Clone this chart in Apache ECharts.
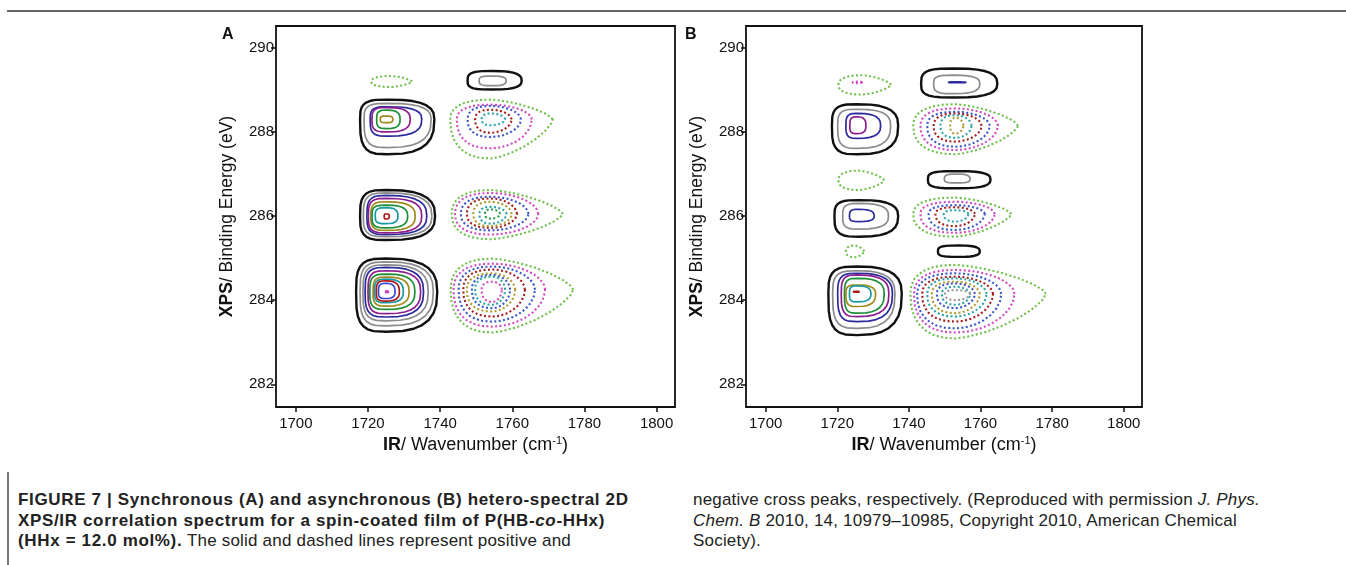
<!DOCTYPE html>
<html>
<head>
<meta charset="utf-8">
<script src="https://cdn.jsdelivr.net/npm/echarts@6/dist/echarts.min.js"></script>
<style>
  html, body { margin:0; padding:0; background:#fff; width:1346px; height:565px; overflow:hidden; }
  #chart { position:absolute; left:0; top:0; width:1346px; height:470px; }
  .cap { position:absolute; top:490px; font-family:'Liberation Sans', Arial, sans-serif; font-size:17px; line-height:20.5px; color:#222; white-space:nowrap; letter-spacing:0.2px; }
  .cap b { letter-spacing:0.65px; }
  #hline { position:absolute; left:7px; top:10px; width:1339px; height:1.5px; background:#666; }
  #vline { position:absolute; left:7px; top:472px; width:1.5px; height:93px; background:#777; }
</style>
</head>
<body>
<div id="hline"></div>
<div id="vline"></div>
<div id="chart"></div>
<div class="cap" style="left:18px;"><b>FIGURE 7 | Synchronous (A) and asynchronous (B) hetero-spectral 2D<br>XPS/IR correlation spectrum for a spin-coated film of P(HB-<i>co</i>-HHx)<br>(HHx = 12.0 mol%).</b> The solid and dashed lines represent positive and</div>
<div class="cap" style="left:693px;">negative cross peaks, respectively. (Reproduced with permission <i>J. Phys.</i><br><i>Chem. B</i> 2010, 14, 10979–10985, Copyright 2010, American Chemical<br>Society).</div>
<script>
// ---------- axis ticks ----------
const xTicks = [1700, 1720, 1740, 1760, 1780, 1800];
const yTicks = [282, 284, 286, 288, 290];

// ---------- peak centres [IR wavenumber, XPS binding energy] ----------
const peakCentresA = [
  [1726.5, 289.2], [1754.5, 289.22], [1725.3, 288.3], [1754, 288.3],
  [1725, 286.0], [1754, 286.05], [1725, 284.2], [1754.5, 284.25]
];
const peakCentresB = [
  [1727, 289.12], [1752.5, 289.15], [1725.5, 288.15], [1753, 288.15],
  [1726, 286.85], [1753.5, 286.87], [1726, 286.0], [1753, 286.05],
  [1725, 285.16], [1754, 285.16], [1725.5, 284.15], [1753, 284.15]
];

// ---------- contours: [peak, level(+ positive / - negative), IR left, IR right, XPS low, XPS high] ----------
const contoursA = [
  [0,-1,1720.9,1732.2,289.07,289.33],
  [1,1,1747.6,1762.6,289.01,289.45],[1,2,1750.8,1758.3,289.10,289.33],
  [2,1,1717.8,1738.4,287.47,288.77],[2,2,1718.9,1737.5,287.63,288.68],[2,3,1720.6,1734.9,287.90,288.60],
  [2,4,1721.1,1731.7,288.0,288.58],[2,5,1722.4,1728.9,288.08,288.52],[2,6,1723.4,1726.9,288.22,288.38],
  [3,-1,1742.8,1771.2,287.37,288.77],[3,-2,1744.6,1765.4,287.61,288.65],[3,-3,1747.6,1762.4,287.88,288.62],
  [3,-4,1749.7,1759.8,287.98,288.53],[3,-5,1751.5,1758.0,288.16,288.44],
  [4,1,1717.8,1738.6,285.43,286.62],[4,2,1718.7,1737.7,285.51,286.55],[4,3,1719.7,1736.3,285.56,286.49],
  [4,4,1720.1,1734.9,285.6,286.42],[4,6,1720.8,1733.1,285.66,286.34],[4,5,1721.1,1731.0,285.72,286.26],
  [4,7,1722.0,1728.3,285.82,286.20],[4,8,1724.5,1725.9,285.93,286.05],
  [5,-1,1743.2,1774.0,285.45,286.62],[5,-2,1744.1,1767.2,285.56,286.55],[5,-3,1745.7,1764.5,285.66,286.46],
  [5,-4,1747.4,1761.3,285.72,286.42],[5,-6,1749.2,1759.8,285.76,286.34],[5,-8,1750.9,1758.4,285.82,286.22],
  [5,-11,1752.4,1756.6,285.94,286.16],
  [6,1,1716.7,1739.2,283.25,284.99],[6,2,1717.8,1738.1,283.39,284.91],[6,2,1718.6,1736.7,283.51,284.84],
  [6,3,1719.2,1735.4,283.60,284.78],[6,4,1720.0,1734.6,283.68,284.70],[6,5,1720.5,1733.0,283.78,284.62],
  [6,6,1721.4,1731.4,283.86,284.55],[6,7,1721.8,1729.8,283.94,284.50],[6,8,1722.3,1728.7,283.98,284.46],
  [6,9,1722.9,1727.5,284.04,284.40],[6,10,1724.9,1725.7,284.18,284.22],
  [7,-1,1742.9,1776.9,283.23,284.99],[7,-2,1743.7,1769.1,283.37,284.87],[7,-3,1745.1,1766.3,283.49,284.80],
  [7,-4,1746.4,1763.5,283.61,284.73],[7,-6,1747.4,1760.8,283.73,284.64],[7,-7,1748.8,1759.4,283.81,284.60],
  [7,-8,1749.7,1758.0,283.89,284.56],[7,-10,1751.5,1757.1,283.96,284.44]
];
const contoursB = [
  [0,-1,1720.3,1735.0,288.89,289.35],[0,-2,1724.3,1726.9,289.16,289.20],
  [1,1,1743.4,1764.7,288.82,289.51],[1,2,1746.9,1759.8,288.91,289.35],[1,3,1751.1,1755.9,289.17,289.19],
  [2,1,1718.5,1737.0,287.47,288.66],[2,2,1720.1,1734.9,287.61,288.54],[2,3,1722.4,1732.1,287.85,288.44],
  [2,4,1723.5,1728.0,287.96,288.36],
  [3,-1,1741.2,1770.5,287.47,288.66],[3,-2,1743.2,1764.9,287.57,288.56],[3,-3,1745.1,1762.6,287.65,288.48],
  [3,-4,1746.9,1760.3,287.77,288.44],[3,-5,1748.8,1757.5,287.86,288.40],[3,-6,1751.5,1755.2,287.96,288.34],
  [4,-1,1720.3,1733.1,286.62,287.08],
  [5,1,1745.3,1762.8,286.66,287.07],[5,2,1749.9,1757.1,286.79,287.0],
  [6,1,1719.2,1737.0,285.51,286.38],[6,2,1721.5,1734.3,285.69,286.30],[6,3,1723.4,1730.3,285.87,286.16],
  [7,-1,1741.2,1768.6,285.51,286.44],[7,-2,1743.2,1764.0,285.60,286.34],[7,-3,1745.5,1761.2,285.67,286.26],
  [7,-4,1747.4,1758.4,285.76,286.21],[7,-5,1749.7,1756.6,285.87,286.14],
  [8,-1,1722.4,1727.5,285.02,285.30],
  [9,1,1748.1,1759.8,285.03,285.30],
  [10,1,1717.5,1738.0,283.17,284.80],[10,2,1718.7,1736.1,283.33,284.70],[10,3,1720.1,1735.4,283.49,284.64],
  [10,4,1721.1,1734.4,283.61,284.60],[10,5,1722.0,1733.1,283.69,284.52],[10,6,1722.4,1730.7,283.85,284.36],
  [10,7,1723.4,1729.4,283.96,284.34],[10,8,1724.5,1726.1,284.19,284.21],
  [11,-1,1740.4,1778.3,283.09,284.84],[11,-2,1741.4,1769.5,283.23,284.72],[11,-3,1742.3,1765.8,283.33,284.64],
  [11,-4,1743.7,1763.5,283.49,284.56],[11,-5,1745.1,1761.7,283.61,284.52],[11,-6,1746.4,1759.8,283.69,284.44],
  [11,-7,1747.8,1758.4,283.81,284.40],[11,-8,1749.2,1757.1,283.89,284.32],[11,-9,1750.1,1757.1,284.0,284.24]
];

// ---------- styling ----------
const posColors = ['#111111','#8c8c8c','#2b2b9c','#8e1e8e','#1f8f3a','#a08a1e','#1a9aa5','#b01818','#3a4ad0','#d040c0'];
const negColors = ['#6cc04a','#d24ac0','#3b55c9','#a31d1d','#2aa3a8','#b09a30','#3b55c9','#2aa3a8','#999999','#d24ac0','#2e9a4e'];

function makeRender(centres) {
  return function (params, api) {
    const g = api.value(0), lev = api.value(1);
    const L = api.value(2), R = api.value(3), B = api.value(4), T = api.value(5);
    let cx = centres[g][0], cy = centres[g][1];
    if (cx <= L || cx >= R) cx = (L + R) / 2;
    if (cy <= B || cy >= T) cy = (B + T) / 2;
    const neg = lev < 0;
    const pl = neg ? 2.4 : 3.4;
    const pr = neg ? (lev === -1 ? 1.45 : 1.9) : 2.7;
    const pts = [];
    const N = 28;
    for (let i = 0; i < N; i++) {
      const t = i / N * Math.PI * 2;
      const c = Math.cos(t), s = Math.sin(t);
      const p = c >= 0 ? pr : pl;
      const ex = 2 / p;
      const dx = (c >= 0 ? (R - cx) : (cx - L)) * Math.sign(c) * Math.pow(Math.abs(c), ex);
      const dy = (s >= 0 ? (T - cy) : (cy - B)) * Math.sign(s) * Math.pow(Math.abs(s), ex);
      pts.push(api.coord([cx + dx, cy + dy]));
    }
    const idx = Math.abs(lev) - 1;
    const color = neg ? negColors[idx % negColors.length] : posColors[idx % posColors.length];
    return {
      type: 'polygon',
      silent: true,
      shape: { points: pts },
      style: {
        fill: 'none',
        stroke: color,
        lineWidth: neg ? 2.1 : (lev === 1 ? 2.4 : 1.7),
        lineDash: neg ? [2, 2.4] : null,
        lineJoin: 'round'
      }
    };
  };
}

const font = 'Liberation Sans, Arial, sans-serif';
function xAxisCfg(gi) {
  return {
    gridIndex: gi, type: 'value', min: 1694.5, max: 1805.1,
    splitLine: { show: false },
    axisLine: { show: false },
    axisTick: { show: true, customValues: xTicks, length: 5, lineStyle: { color: '#111', width: 1.5 } },
    axisLabel: { customValues: xTicks, formatter: v => String(v), fontSize: 15, color: '#111', margin: 9, fontFamily: font },
    name: '{b|IR}/ Wavenumber (cm{s|-1})',
    nameLocation: 'middle', nameGap: 24,
    nameTextStyle: {
      fontSize: 18, color: '#111', fontFamily: font,
      rich: {
        b: { fontSize: 18, fontWeight: 'bold', color: '#111', fontFamily: font },
        s: { fontSize: 11, color: '#111', fontFamily: font, verticalAlign: 'top', padding: [0, 0, 6, 0] }
      }
    }
  };
}
function yAxisCfg(gi) {
  return {
    gridIndex: gi, type: 'value', min: 281.46, max: 290.52,
    splitLine: { show: false },
    axisLine: { show: false },
    axisTick: { show: true, customValues: yTicks, length: 5, lineStyle: { color: '#111', width: 1.5 } },
    axisLabel: { customValues: yTicks, formatter: v => String(v), fontSize: 15, color: '#111', margin: 2, fontFamily: font },
    name: '{b|XPS}/ Binding Energy (eV)',
    nameLocation: 'middle', nameGap: 40,
    nameTextStyle: {
      fontSize: 17.5, color: '#111', fontFamily: font,
      rich: { b: { fontSize: 17.5, fontWeight: 'bold', color: '#111', fontFamily: font } }
    }
  };
}

const chart = echarts.init(document.getElementById('chart'), null, { renderer: 'canvas' });
chart.setOption({
  animation: false,
  backgroundColor: 'transparent',
  grid: [
    { left: 276, top: 26, width: 399, height: 381, show: true, borderColor: '#111', borderWidth: 1.8, backgroundColor: 'transparent' },
    { left: 746, top: 26, width: 396, height: 381, show: true, borderColor: '#111', borderWidth: 1.8, backgroundColor: 'transparent' }
  ],
  xAxis: [xAxisCfg(0), xAxisCfg(1)],
  yAxis: [yAxisCfg(0), yAxisCfg(1)],
  graphic: [
    { type: 'text', left: 222, top: 27, style: { text: 'A', fontSize: 16, fontWeight: 'bold', fill: '#111', fontFamily: font } },
    { type: 'text', left: 685, top: 27, style: { text: 'B', fontSize: 16, fontWeight: 'bold', fill: '#111', fontFamily: font } }
  ],
  series: [
    { type: 'custom', xAxisIndex: 0, yAxisIndex: 0, data: contoursA, encode: { x: 2, y: 4 }, renderItem: makeRender(peakCentresA), clip: true },
    { type: 'custom', xAxisIndex: 1, yAxisIndex: 1, data: contoursB, encode: { x: 2, y: 4 }, renderItem: makeRender(peakCentresB), clip: true }
  ]
});
</script>
</body>
</html>
